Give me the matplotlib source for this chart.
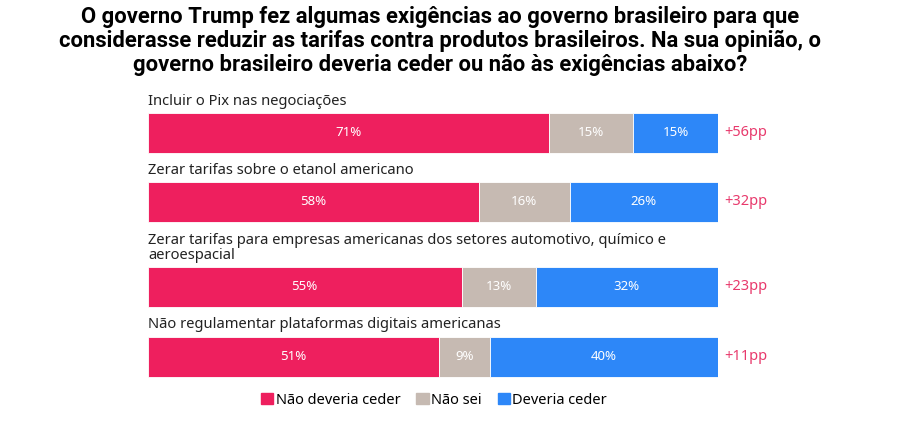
import matplotlib
matplotlib.use("Agg")
import matplotlib.pyplot as plt
from matplotlib.patches import Patch
import numpy as np

categories = [
    "Incluir o Pix nas negociações",
    "Zerar tarifas sobre o etanol americano",
    "Zerar tarifas para empresas americanas dos setores automotivo, químico e\naeroespacial",
    "Não regulamentar plataformas digitais americanas",
]
nao_deveria = [71, 58, 55, 51]
nao_sei = [15, 16, 13, 9]
deveria = [15, 26, 32, 40]
diff_labels = ["+56pp", "+32pp", "+23pp", "+11pp"]
series_names = ["Não deveria ceder", "Não sei", "Deveria ceder"]

colors = ["#EE1F5E", "#C6BAB2", "#2D87F8"]
diff_color = "#E8396C"
title = ("O governo Trump fez algumas exigências ao governo brasileiro para que\n"
         "considerasse reduzir as tarifas contra produtos brasileiros. Na sua opinião, o\n"
         "governo brasileiro deveria ceder ou não às exigências abaixo?")

W, H = 916, 425
fig = plt.figure(figsize=(W / 100, H / 100), dpi=100)
ax = fig.add_axes([148 / W, 0, 570 / W, 1])
ax.set_xlim(0, 100)
ax.set_ylim(H, 0)
ax.axis("off")

# bar centres in pixel rows, label positions above
bar_y = [133, 201.5, 286.5, 356.5]
label_y = [101, 170, 248, 325]

data = np.array([nao_deveria, nao_sei, deveria], dtype=float)
shares = data / data.sum(axis=0) * 100

left = np.zeros(len(categories))
for i in range(3):
    ax.barh(bar_y, shares[i], left=left, height=40, color=colors[i],
            edgecolor="white", linewidth=0.6)
    for j in range(len(categories)):
        ax.text(left[j] + shares[i][j] / 2, bar_y[j], f"{int(data[i][j])}%",
                ha="center", va="center", color="white", fontsize=9.5,
                family="Noto Sans")
    left += shares[i]

for j, cat in enumerate(categories):
    ax.text(0, label_y[j], cat, ha="left", va="center", fontsize=10.6,
            color="#222222", family="Noto Sans", linespacing=1.05)
    ax.text(101.1, bar_y[j], diff_labels[j], ha="left", va="center",
            fontsize=10.5, color=diff_color, family="Noto Sans")

fig.text(440 / W, 1 - 41 / H, title, ha="center", va="center", fontsize=15.8,
         fontweight="bold", family="Roboto", linespacing=1.1, color="black")

handles = [Patch(color=c) for c in colors]
fig.legend(handles, series_names, loc="center", bbox_to_anchor=(434 / W, 1 - 400 / H),
           ncol=3, frameon=False, handlelength=0.85, handleheight=0.85,
           handletextpad=0.15, columnspacing=1.1,
           prop={"family": "Noto Sans", "size": 10.5})

fig.savefig("out.png", dpi=100)
